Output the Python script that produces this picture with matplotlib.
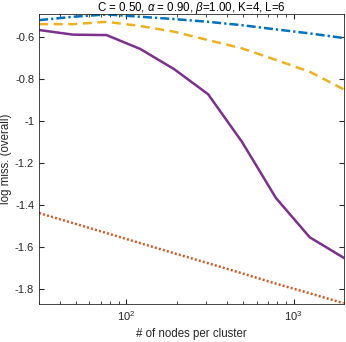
import numpy as np
import matplotlib
matplotlib.use("Agg")
import matplotlib.pyplot as plt
from matplotlib.ticker import FuncFormatter, LogLocator, NullFormatter

plt.rcParams['font.family'] = ['Liberation Sans', 'DejaVu Sans']
plt.rcParams['axes.unicode_minus'] = False
plt.rcParams['mathtext.fontset'] = 'custom'
plt.rcParams['mathtext.it'] = 'Liberation Sans:italic'
plt.rcParams['mathtext.rm'] = 'Liberation Sans'
plt.rcParams['lines.scale_dashes'] = False

# nodes per cluster
nodes = [30, 48, 76, 121, 193, 308, 491, 783, 1248, 1990]

# log missclassification, one list per method
miss_blue = [-0.522, -0.506, -0.495, -0.506, -0.517, -0.530, -0.546, -0.566, -0.585, -0.607]
miss_orange = [-1.438, -1.486, -1.533, -1.581, -1.629, -1.676, -1.724, -1.773, -1.819, -1.866]
miss_yellow = [-0.541, -0.541, -0.530, -0.550, -0.577, -0.617, -0.656, -0.711, -0.767, -0.850]
miss_purple = [-0.569, -0.591, -0.593, -0.659, -0.755, -0.874, -1.100, -1.366, -1.553, -1.650]

fig = plt.figure(figsize=(3.46, 3.42), dpi=100)
ax = fig.add_axes([0.113, 0.111, 0.881, 0.848])

lw = 1.8
ax.plot(nodes, miss_blue, color='#0072BD', lw=lw, dashes=(6.5, 2.2, 1.6, 2.2),
        dash_capstyle='butt')
ax.plot(nodes, miss_orange, color='#D95319', lw=lw, dashes=(1.4, 1.6),
        dash_capstyle='butt')
ax.plot(nodes, miss_yellow, color='#EDB120', lw=lw, dashes=(6.5, 4),
        dash_capstyle='butt')
ax.plot(nodes, miss_purple, '-', color='#7E2F8E', lw=lw)

ax.set_xscale('log')
ax.set_xlim(30, 2000)
ax.set_ylim(-1.87, -0.493)
ax.set_yticks([-1.8, -1.6, -1.4, -1.2, -1, -0.8, -0.6])
ax.yaxis.set_major_formatter(FuncFormatter(lambda v, p: '%g' % v))
ax.xaxis.set_major_locator(LogLocator(base=10))
ax.xaxis.set_minor_locator(LogLocator(base=10, subs=np.arange(2, 10)))
ax.xaxis.set_minor_formatter(NullFormatter())

ax.tick_params(which='both', direction='in', top=True, right=True,
               labelsize=8, colors='0.15')
ax.tick_params(which='major', length=3.5)
ax.tick_params(which='minor', length=2)
for s in ax.spines.values():
    s.set_color('0.15')
    s.set_linewidth(0.6)

ax.set_xlabel('# of nodes per cluster', fontsize=8.3, color='0.15', labelpad=4)
ax.set_ylabel('log miss. (overall)', fontsize=8.3, color='0.15', labelpad=2)
fig.text(0.5535, 1 - 11.5 / 342, r'C = 0.50, $\alpha$ = 0.90, $\beta$=1.00, K=4, L=6',
         fontsize=8.3, ha='center', va='baseline')

fig.savefig('out.png', dpi=100)
